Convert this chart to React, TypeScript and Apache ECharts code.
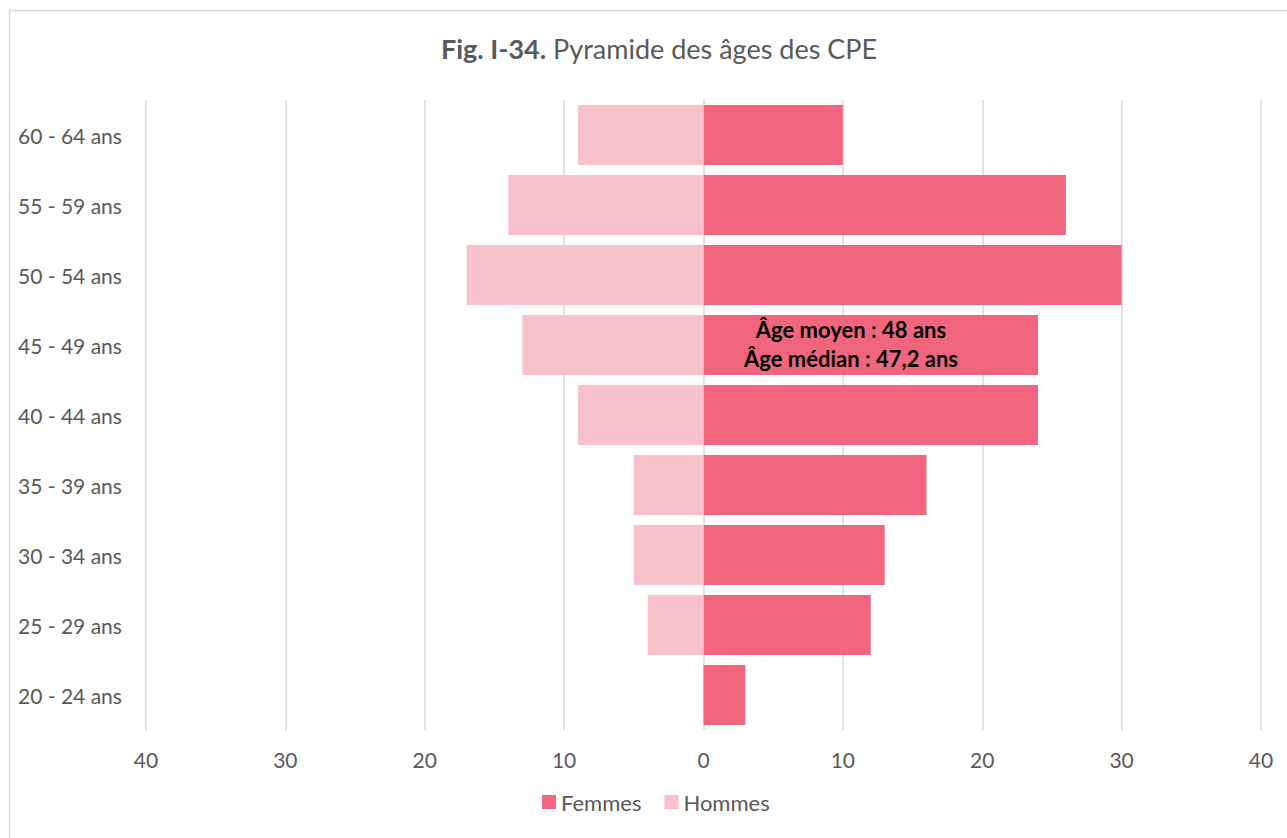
import React, { useEffect, useRef } from "react";
import * as echarts from "echarts";

const categories = [
  "20 - 24 ans",
  "25 - 29 ans",
  "30 - 34 ans",
  "35 - 39 ans",
  "40 - 44 ans",
  "45 - 49 ans",
  "50 - 54 ans",
  "55 - 59 ans",
  "60 - 64 ans",
];
const femmes = [3, 12, 13, 16, 24, 24, 30, 26, 10];
const hommes = [0, 4, 5, 5, 9, 13, 17, 14, 9];
const annotationLines = ["Âge moyen : 48 ans", "Âge médian : 47,2 ans"];

const FONT = "Lato, 'Open Sans', sans-serif";
const GREY = "#595959";

export default function App() {
  const ref = useRef<HTMLDivElement>(null);
  useEffect(() => {
    document.body.style.margin = "0";
    const chart = echarts.init(ref.current!, null, { renderer: "svg" });
    chart.setOption({
      animation: false,
      textStyle: { fontFamily: FONT },
      title: {
        text: "{b|Fig. I-34.} {n|Pyramide des âges des CPE}",
        left: 436,
        top: 30,
        textStyle: {
          fontFamily: FONT,
          fontSize: 27,
          fontWeight: "normal",
          color: GREY,
          rich: {
            b: { fontFamily: FONT, fontWeight: "bold", fontSize: 27, color: GREY },
            n: { fontFamily: FONT, fontWeight: "normal", fontSize: 27, color: GREY },
          },
        },
      },
      legend: {
        bottom: 20,
        left: 537,
        itemWidth: 14,
        itemHeight: 14,
        itemGap: 23,
        icon: "rect",
        textStyle: { fontFamily: FONT, fontSize: 22, color: GREY },
        data: ["Femmes", "Hommes"],
      },
      grid: { left: 146, right: 26, top: 100, bottom: 108, containLabel: false },
      xAxis: {
        type: "value",
        min: -40,
        max: 40,
        interval: 10,
        axisLine: { show: false },
        axisTick: { show: false },
        splitLine: { show: true, lineStyle: { color: "#d9d9d9", width: 1.5 } },
        axisLabel: {
          formatter: (v: number) => String(Math.abs(v)),
          fontFamily: FONT,
          fontSize: 21,
          color: GREY,
          margin: 19,
        },
      },
      yAxis: {
        type: "category",
        data: categories,
        axisLine: { show: false },
        axisTick: { show: false },
        axisLabel: {
          fontFamily: FONT,
          fontSize: 21,
          color: GREY,
          align: "left",
          margin: 128,
          padding: [0, 0, 4, 0],
        },
      },
      series: [
        {
          name: "Femmes",
          type: "bar",
          data: femmes,
          barWidth: 60,
          barGap: "-100%",
          itemStyle: { color: "#F1657E" },
        },
        {
          name: "Hommes",
          type: "bar",
          data: hommes.map((v) => -v),
          barWidth: 60,
          barGap: "-100%",
          itemStyle: { color: "#F8C0CB" },
        },
      ],
      graphic: [
        {
          type: "rect",
          z: 100,
          shape: { x: 9.5, y: 10.5, width: 1400, height: 1000 },
          style: { fill: "none", stroke: "#d9d9d9", lineWidth: 1.5 },
          silent: true,
        },
        {
          type: "text",
          z: 100,
          x: 851,
          y: 329,
          style: {
            text: annotationLines[0],
            fontFamily: FONT,
            fontWeight: "bold",
            fontSize: 22,
            fill: "#000",
            textAlign: "center",
            textVerticalAlign: "middle",
          },
        },
        {
          type: "text",
          z: 100,
          x: 851,
          y: 358,
          style: {
            text: annotationLines[1],
            fontFamily: FONT,
            fontWeight: "bold",
            fontSize: 22,
            fill: "#000",
            textAlign: "center",
            textVerticalAlign: "middle",
          },
        },
      ],
    });
    return () => chart.dispose();
  }, []);
  return <div ref={ref} style={{ width: 1287, height: 838 }} />;
}
